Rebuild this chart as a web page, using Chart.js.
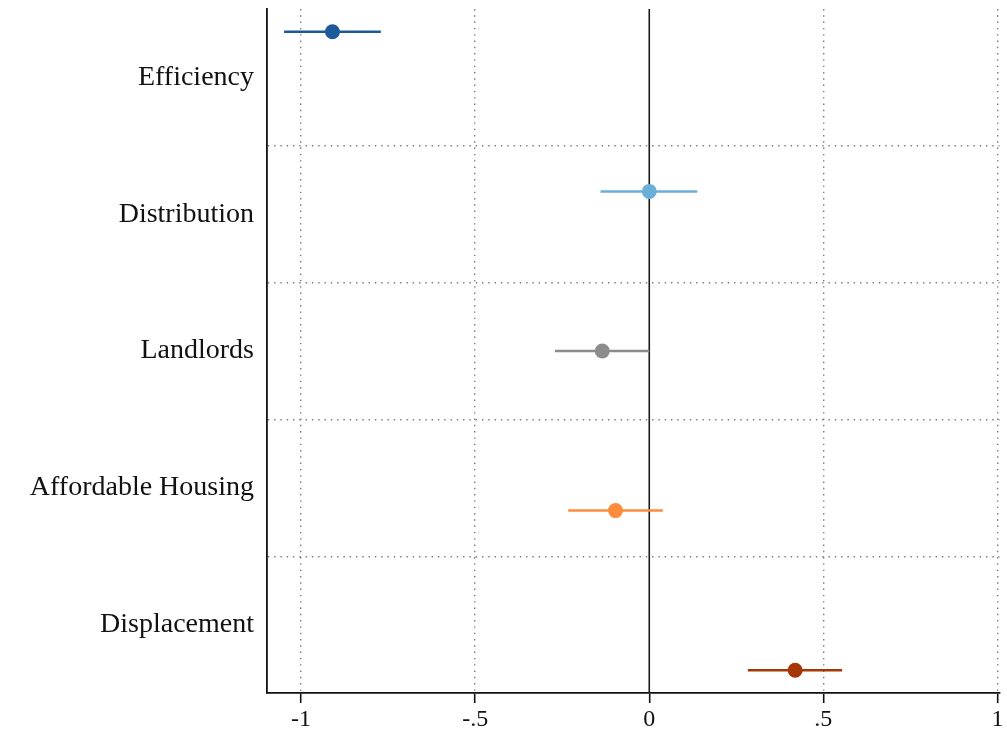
<!DOCTYPE html>
<html>
<head>
<meta charset="utf-8">
<script src="https://cdn.jsdelivr.net/npm/chart.js@4"></script>
<style>
  html, body { margin: 0; padding: 0; background: #fff; overflow: hidden; }
  #wrap { width: 1007px; height: 733px; position: relative; }
  #wrap canvas { display: block; }
</style>
</head>
<body>
<div id="wrap"><canvas id="coefChart"></canvas></div>
<script>
// Data
const categories = ["Efficiency", "Distribution", "Landlords", "Affordable Housing", "Displacement"];
const estimates = [-0.91, 0.0, -0.135, -0.097, 0.419];
const ciLow = [-1.049, -0.140, -0.271, -0.233, 0.283];
const ciHigh = [-0.771, 0.138, 0.0, 0.039, 0.554];
const xTicks = [-1, -0.5, 0, 0.5, 1];

// Styles
const colors = ["#1d5a9a", "#6aafd7", "#8c8c8c", "#fd8d3c", "#a63603"];
const FONT = "'Liberation Serif', 'Times New Roman', serif";

// each series sits slightly lower inside its row (coefplot offset)
const rowY = (i) => i + (i + 1) / (categories.length + 1);

const datasets = [];
categories.forEach((cat, i) => {
    datasets.push({
        label: cat,
        data: [{ x: estimates[i], y: rowY(i) }],
        pointRadius: 7.5,
        pointHoverRadius: 7.5,
        pointBackgroundColor: colors[i],
        pointBorderWidth: 0,
        showLine: false,
        order: 0,
    });
    datasets.push({
        label: cat + " CI",
        data: [{ x: ciLow[i], y: rowY(i) }, { x: ciHigh[i], y: rowY(i) }],
        borderColor: colors[i],
        borderWidth: 2.5,
        pointRadius: 0,
        showLine: true,
        order: 1,
    });
});

// solid reference line at zero
const zeroLine = {
    id: "zeroLine",
    beforeDatasetsDraw(chart) {
        const { ctx, chartArea, scales } = chart;
        const x = scales.x.getPixelForValue(0);
        ctx.save();
        ctx.strokeStyle = "#1a1a1a";
        ctx.lineWidth = 1.6;
        ctx.beginPath();
        ctx.moveTo(x, chartArea.top);
        ctx.lineTo(x, chartArea.bottom);
        ctx.stroke();
        ctx.restore();
    },
};

new Chart(document.getElementById("coefChart"), {
    type: "scatter",
    data: { datasets },
    plugins: [zeroLine],
    options: {
        responsive: true,
        maintainAspectRatio: false,
        animation: false,
        layout: { padding: { top: 9, right: 4, left: 0, bottom: 0 } },
        plugins: { legend: { display: false }, tooltip: { enabled: false } },
        scales: {
            x: {
                type: "linear",
                min: -1.098,
                max: 1.006,
                afterBuildTicks: (scale) => { scale.ticks = xTicks.map((v) => ({ value: v })); },
                afterFit: (scale) => {
                    scale.height = 40;
                    scale.paddingLeft = 0;
                    scale.paddingRight = 0;
                },
                ticks: {
                    color: "#111",
                    font: { family: FONT, size: 24 },
                    padding: 2,
                    maxRotation: 0,
                    callback: (v) => (v === 0 ? "0" : String(v).replace("0.", ".")),
                },
                grid: {
                    color: (c) => (c.tick && c.tick.value === 0 ? "transparent" : "#7a7a7a"),
                    lineWidth: 1.4,
                    drawTicks: true,
                    tickLength: 10,
                    tickColor: "#111",
                    tickWidth: 1.6,
                },
                border: { display: true, color: "#111", width: 1.8, dash: [1.4, 4.9] },
            },
            y: {
                type: "linear",
                reverse: true,
                min: 0,
                max: 5,
                afterBuildTicks: (scale) => {
                    const t = [];
                    for (let v = 0.5; v < categories.length; v += 0.5) t.push({ value: v });
                    scale.ticks = t;
                },
                afterFit: (scale) => {
                    scale.width = 267;
                    scale.paddingTop = 0;
                    scale.paddingBottom = 0;
                },
                ticks: {
                    color: "#111",
                    font: { family: FONT, size: 28 },
                    padding: 13,
                    callback: (v) => (v % 1 === 0.5 ? categories[Math.floor(v)] : ""),
                },
                grid: {
                    color: (c) => (c.tick && c.tick.value % 1 === 0 ? "#7a7a7a" : "transparent"),
                    lineWidth: 1.4,
                    drawTicks: false,
                },
                border: { display: true, color: "#111", width: 1.8, dash: [1.4, 4.9] },
            },
        },
    },
});
</script>
</body>
</html>
